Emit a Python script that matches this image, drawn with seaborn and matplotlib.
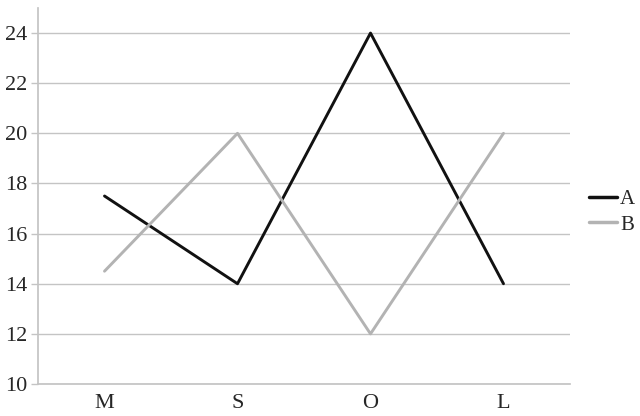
import pandas as pd
import seaborn as sns
import matplotlib.pyplot as plt
from matplotlib.lines import Line2D

# Veriler
kategoriler = ['M', 'S', 'O', 'L']
seri_a = [17.5, 14, 24, 14]
seri_b = [14.5, 20, 12, 20]

df = pd.DataFrame({
    'kategori': kategoriler * 2,
    'deger': seri_a + seri_b,
    'seri': ['A'] * 4 + ['B'] * 4,
})
df['x'] = df['kategori'].map({k: i for i, k in enumerate(kategoriler)})

sns.set_theme(style='white')
plt.rcParams['font.family'] = ['Liberation Serif', 'DejaVu Serif']

fig = plt.figure(figsize=(6.4, 4.16), dpi=100)
ax = fig.add_axes([38 / 640, 32 / 416, 532 / 640, 376 / 416])

sns.lineplot(data=df, x='x', y='deger', hue='seri', palette={'A': '#111111', 'B': '#b3b3b3'},
             linewidth=2.1, ax=ax, legend=False)

ax.set_xlim(-0.5, 3.5)
ax.set_ylim(10, 25)
ax.set_yticks(range(10, 25, 2))
ax.set_xticks(range(len(kategoriler)))
ax.set_xticklabels(kategoriler)
ax.set_xlabel('')
ax.set_ylabel('')
ax.grid(axis='y', color='#c4c4c4', linewidth=1)
ax.set_axisbelow(True)
for s in ['top', 'right']:
    ax.spines[s].set_visible(False)
ax.spines['left'].set_color('#c4c4c4')
ax.spines['bottom'].set_color('#c4c4c4')
ax.tick_params(axis='y', length=5, color='#c4c4c4', width=1, labelsize=16, pad=3, left=True)
ax.tick_params(axis='x', length=0, labelsize=16, pad=7)

# Lejant
tutamaclar = [Line2D([], [], color='#111111', lw=2.5), Line2D([], [], color='#b3b3b3', lw=2.5)]
fig.legend(tutamaclar, ['A', 'B'], loc='center left', bbox_to_anchor=(589 / 640, 1 - 212 / 416),
           frameon=False, fontsize=15, handlelength=1.35, handletextpad=0.15, labelspacing=0.3,
           borderaxespad=0, borderpad=0)

fig.savefig('out.png', dpi=100)
